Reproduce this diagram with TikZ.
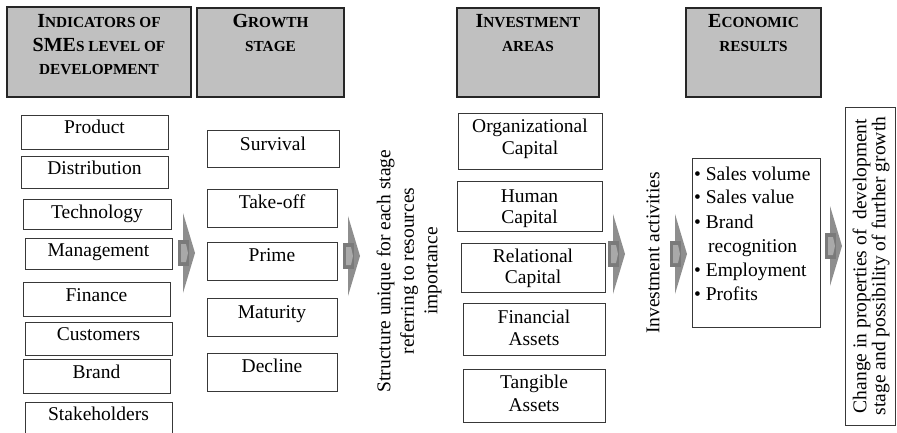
\documentclass[tikz,border=0pt]{standalone}
\usepackage{fontspec}
\setmainfont{Liberation Serif}
\usetikzlibrary{fit}
\definecolor{hdrgray}{HTML}{C0C0C0}
\definecolor{boxline}{HTML}{383838}
\definecolor{hdrline}{HTML}{262626}
\definecolor{arrtri}{HTML}{8E8E8E}
\definecolor{arrbody}{HTML}{7A7A7A}
\definecolor{arrinner}{HTML}{A9A9A9}
\newcommand\bsz{\rmfamily\fontsize{19.5}{22}\selectfont}
\newcommand\hL{\fontsize{20}{23}\selectfont\bfseries}
\newcommand\hS{\fontsize{15.3}{23}\selectfont\bfseries}
\newcommand\garrow[2]{%
  \fill[arrtri] (#1+5,#2-40) -- (#1+17,#2) -- (#1+5,#2+40) -- cycle;
  \fill[arrbody] (#1,#2-13) rectangle (#1+11,#2+13);
  \fill[arrinner] (#1+3,#2-9) -- (#1+8,#2-9) -- (#1+10,#2) -- (#1+8,#2+9) -- (#1+3,#2+9) -- cycle;
}
\tikzset{
  hdr/.style={draw=hdrline, line width=1.3pt, fill=hdrgray, inner sep=0pt},
  box/.style={draw=boxline, line width=0.9pt, fill=white, inner sep=0pt},
  txt/.style={font=\bsz, inner sep=0pt, anchor=base},
  htxt/.style={inner sep=0pt, anchor=base},
}
\begin{document}
\begin{tikzpicture}[x=1pt,y=-1pt]
\clip (0,0) rectangle (897,433);
\fill[white] (0,0) rectangle (897,433);

% headers
\node[hdr, fit={(7,7) (191,97)}] (h1) {};
\node[hdr, fit={(197,8) (344,97)}] (h2) {};
\node[hdr, fit={(457,8) (599,97)}] (h3) {};
\node[hdr, fit={(686,8) (821,97)}] (h4) {};
\node[htxt] (h1a) at (99,28) {\hL I\hS NDICATORS OF};
\node[htxt] (h1b) at (99,52) {\hL SME\hS S LEVEL OF};
\node[htxt] (h1c) at (99,75) {\hS DEVELOPMENT};
\node[htxt] (h2a) at (270.5,28) {\hL G\hS ROWTH};
\node[htxt] (h2b) at (270.5,52) {\hS STAGE};
\node[htxt] (h3a) at (528,28) {\hL I\hS NVESTMENT};
\node[htxt] (h3b) at (528,52) {\hS AREAS};
\node[htxt] (h4a) at (753.5,28) {\hL E\hS CONOMIC};
\node[htxt] (h4b) at (753.5,52) {\hS RESULTS};

% indicators
\node[box, fit={(21,115) (168,149)}] (b1) {};
\node[txt] (t1) at (94.5,134) {Product};
\node[box, fit={(21,156) (168,188)}] (b2) {};
\node[txt] (t2) at (94.5,175) {Distribution};
\node[box, fit={(23,199) (171,229)}] (b3) {};
\node[txt] (t3) at (97,218) {Technology};
\node[box, fit={(25,238) (172,269)}] (b4) {};
\node[txt] (t4) at (98.5,256) {Management};
\node[box, fit={(23,282) (170,316)}] (b5) {};
\node[txt] (t5) at (96.5,301) {Finance};
\node[box, fit={(25,322) (172,355)}] (b6) {};
\node[txt] (t6) at (98.5,340) {Customers};
\node[box, fit={(23,359) (170,393)}] (b7) {};
\node[txt] (t7) at (96.5,378) {Brand};
\node[box, fit={(25,402) (172,460)}] (b8) {};
\node[txt] (t8) at (98.5,420) {Stakeholders};

% growth stages
\node[box, fit={(207,130) (339,167)}] (g1) {};
\node[txt] (gt1) at (273,150) {Survival};
\node[box, fit={(207,189) (337,227)}] (g2) {};
\node[txt] (gt2) at (272,208) {Take-off};
\node[box, fit={(207,242) (337,280)}] (g3) {};
\node[txt] (gt3) at (272,261) {Prime};
\node[box, fit={(207,298) (337,336)}] (g4) {};
\node[txt] (gt4) at (272,318) {Maturity};
\node[box, fit={(207,353) (337,391)}] (g5) {};
\node[txt] (gt5) at (272,372) {Decline};

% structure text
\node[font=\rmfamily\fontsize{19.5}{23.5}\selectfont, inner sep=0pt, rotate=90, align=center] (struct) at (409,271)
  {Structure unique for each stage\\referring to resources\\importance};

% investment areas
\node[box, fit={(458,113) (602,169)}] (i1) {};
\node[txt] (it1a) at (530,133) {Organizational};
\node[txt] (it1b) at (530,155) {Capital};
\node[box, fit={(457,181) (602,231)}] (i2) {};
\node[txt] (it2a) at (529.5,202) {Human};
\node[txt] (it2b) at (529.5,223) {Capital};
\node[box, fit={(461,243) (605,292)}] (i3) {};
\node[txt] (it3a) at (533,262) {Relational};
\node[txt] (it3b) at (533,283) {Capital};
\node[box, fit={(463,303) (605,355)}] (i4) {};
\node[txt] (it4a) at (534,323) {Financial};
\node[txt] (it4b) at (534,345) {Assets};
\node[box, fit={(463,369) (605,422)}] (i5) {};
\node[txt] (it5a) at (534,388) {Tangible};
\node[txt] (it5b) at (534,411) {Assets};

% investment activities
\node[font=\bsz, inner sep=0pt, rotate=90] (invact) at (653,253) {Investment activities};

% economic results list
\node[box, fit={(692,158) (820,327)}] (econ) {};
\node[txt, anchor=base west] (e1) at (694,180) {\textbullet\ Sales volume};
\node[txt, anchor=base west] (e2) at (694,204) {\textbullet\ Sales value};
\node[txt, anchor=base west] (e3) at (694,228) {\textbullet\ Brand};
\node[txt, anchor=base west] (e3b) at (708,252) {recognition};
\node[txt, anchor=base west] (e4) at (694,276) {\textbullet\ Employment};
\node[txt, anchor=base west] (e5) at (694,300) {\textbullet\ Profits};

% change box
\node[box, fit={(845,107) (895,425)}] (chg) {};
\node[font=\rmfamily\fontsize{19.5}{19}\selectfont, inner sep=0pt, rotate=90, align=center] (chgt) at (871,266)
  {Change in properties of \ development\\stage and possibility of further growth};

% arrows
\garrow{178}{253}
\garrow{343}{256}
\garrow{608}{254}
\garrow{670}{254}
\garrow{825}{246}
\end{tikzpicture}
\end{document}
